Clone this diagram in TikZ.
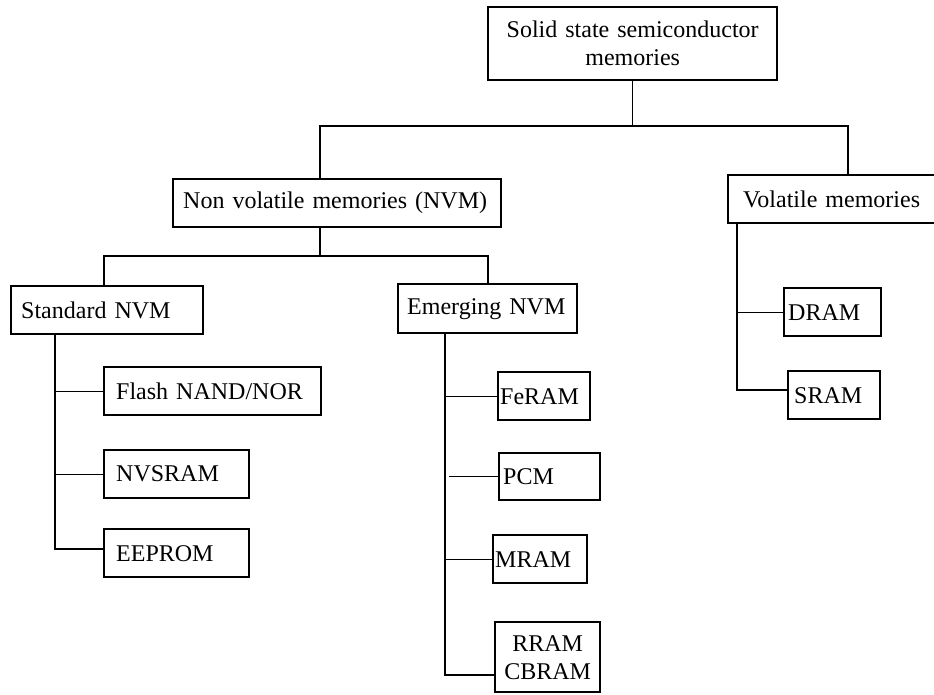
\documentclass[tikz,border=0pt]{standalone}
\usepackage{fontspec}
\setmainfont{Liberation Serif}
\begin{document}
\begin{tikzpicture}[
    x=1pt, y=-1pt,
    box/.style={rectangle, draw=black, line width=2.4pt, anchor=north west,
                inner xsep=10pt, inner ysep=0pt, align=left,
                minimum height=48pt, font=\fontsize{24pt}{28pt}\selectfont},
    link/.style={draw=black, line width=1.4pt},
]
\useasboundingbox (0,0) rectangle (934,695);
\clip (0,0) rectangle (934,695);

% Radice
\node[box, inner xsep=8pt, text width=273pt, align=center, minimum height=73pt]
    (root) at (487,6) {Solid state semiconductor\\memories};

% Primo livello
\node[box, text width=308pt] (nvm) at (172,178) {Non volatile memories (NVM)};
\node[box, inner xsep=15pt, text width=185pt] (vol) at (727,174) {Volatile memories};

% Secondo livello
\node[box, text width=172pt] (std) at (10,285) {Standard NVM};
\node[box, inner xsep=9pt, text width=161pt, minimum height=49pt] (emg) at (397,283) {Emerging NVM};

% Standard NVM
\node[box, inner xsep=12pt, text width=193pt] (flash) at (103,366) {Flash NAND/NOR};
\node[box, inner xsep=12pt, text width=121pt] (nvsram) at (103,449) {NVSRAM};
\node[box, inner xsep=12pt, text width=121pt] (eeprom) at (103,528) {EEPROM};

% Emerging NVM
\node[box, inner xsep=2pt, text width=88pt] (feram) at (497,371) {FeRAM};
\node[box, inner xsep=4pt, text width=93pt, minimum height=47pt] (pcm) at (498,452) {PCM};
\node[box, inner xsep=2pt, text width=90pt] (mram) at (492,534) {MRAM};
\node[box, inner xsep=2pt, text width=101pt, align=center, minimum height=70pt]
    (rram) at (494,621) {RRAM\\CBRAM};

% Volatile
\node[box, inner xsep=4pt, text width=89pt] (dram) at (783,287) {DRAM};
\node[box, inner xsep=6pt, text width=80pt] (sram) at (787,370) {SRAM};

% Collegamenti
\coordinate (b1w) at (320,126);
\coordinate (b1e) at (848,126);
\draw[link] (root.south) -- (root.south |- b1w);
\draw[link] (b1w |- nvm.north) -- (b1w) -- (b1e) -- (b1e |- vol.north);

\coordinate (b2w) at (104,256);
\coordinate (b2e) at (488,256);
\draw[link] (b1w |- nvm.south) -- (b1w |- b2w);
\draw[link] (b2w |- std.north) -- (b2w) -- (b2e) -- (b2e |- emg.north);

% Rami Standard NVM
\coordinate (sbot) at (55,549);
\draw[link] (sbot |- std.south) -- (sbot) -- (sbot -| eeprom.west);
\foreach \n in {flash,nvsram}
    \draw[link] (sbot |- \n.west) -- (\n.west);

% Rami Emerging NVM
\coordinate (ebot) at (445,675);
\draw[link] (ebot |- emg.south) -- (ebot) -- (ebot -| rram.west);
\draw[link] (ebot |- feram.west) -- (feram.west);
\draw[link] ([xshift=4pt]ebot |- pcm.west) -- (pcm.west);
\draw[link] (ebot |- mram.west) -- (mram.west);

% Rami Volatile
\coordinate (vbot) at (737,390);
\draw[link] (vbot |- vol.south) -- (vbot) -- (vbot -| sram.west);
\draw[link] (vbot |- dram.west) -- (dram.west);

\end{tikzpicture}
\end{document}
